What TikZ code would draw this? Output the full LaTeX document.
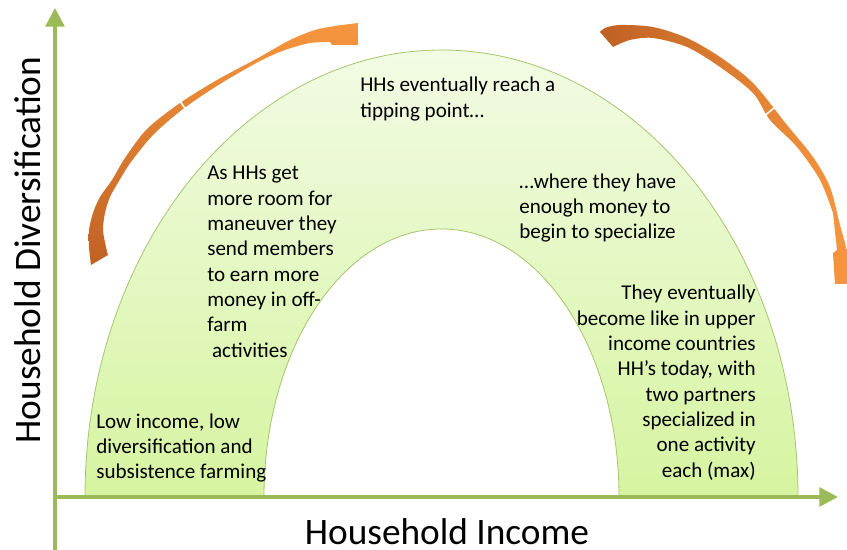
\documentclass[tikz,border=0pt]{standalone}
\usepackage{fontspec}
\setmainfont{Carlito}
\usetikzlibrary{positioning, calc, arrows.meta}

\definecolor{axisgreen}{HTML}{9BBB59}
\definecolor{archedge}{HTML}{A5C66E}
\definecolor{archtop}{HTML}{F2FBE4}
\definecolor{archbottom}{HTML}{D6F4A0}
\definecolor{arrowdark}{HTML}{BF6124}
\definecolor{arrowlight}{HTML}{F7963E}

\begin{document}
\begin{tikzpicture}[x=0.75pt, y=0.75pt,
    label text/.style={font=\fontsize{15.8}{19}\selectfont, inner sep=0pt},
    axis text/.style={font=\fontsize{28}{32}\selectfont, inner sep=0pt},
    axis line/.style={axisgreen, line width=3pt, -{Triangle[length=14pt, width=14pt]}}]

    \useasboundingbox (0,0) rectangle (847,550);
    \clip (0,0) rectangle (847,550);

    % The green block arc
    \shadedraw[draw=archedge, line width=0.6pt, top color=archtop, bottom color=archbottom]
        (85,53) arc[start angle=180, end angle=0, x radius=356.5, y radius=447] -- (619,53)
        arc[start angle=0, end angle=180, x radius=177.5, y radius=268] -- cycle;

    % Axes
    \coordinate (ybottom) at (55,0);
    \coordinate (ytip) at (55,542);
    \coordinate (origin) at (53.5,53);
    \coordinate (xtip) at (838,53);
    \draw[axis line] (ybottom) -- (ytip);
    \draw[axis line] (origin) -- (xtip);

    % Left orange arrow (up and over)
    \shade[bottom color=arrowdark, top color=arrowlight]
        plot[smooth] coordinates {(91,285) (89,303) (89,320) (93,337) (100,353) (112,370)
            (125,392) (147,421) (180,447) (217,470) (258,492) (290,510) (315,520) (335,524) (350,526)}
        -- (358,527) -- (358,505) -- (332,505) -- (330,508)
        -- plot[smooth] coordinates {(331,508) (310,507) (285,500) (260,489) (220,466) (183,441)
            (153,415) (131,388) (119,369) (110,353) (105,337) (103,320) (106,303) (108,295)}
        -- cycle;
    \draw[white, line width=1.2pt] (177.4,452.6) -- (186.6,439.4);

    % Right orange arrow (over and down)
    \shade[left color=arrowdark, right color=arrowlight]
        plot[smooth] coordinates {(600,518) (605,522) (620,525) (653,523) (687,512) (720,493)
            (753,467) (787,425) (813,393) (830,363) (840,325) (847,300)}
        -- (847,266) -- (835,266) -- (833,297) -- (837,300)
        -- plot[smooth] coordinates {(833,337) (820,370) (797,403) (770,430) (753,457)
            (720,483) (687,503) (653,512) (630,510) (613,503)}
        -- cycle;
    \draw[white, line width=1.2pt] (762,432) -- (774,442);

    % Texts inside the arc (placed at the baseline of their last line)
    \node[label text, anchor=base west, align=left] (lowincome) at (96,71.3)
        {Low income, low\\diversification and\\subsistence farming};
    \node[label text, anchor=base west, align=left] (offfarm) at (207,192.7)
        {As HHs get\\more room for\\maneuver they\\send members\\to earn more\\money in off-\\farm\\~activities};
    \node[label text, anchor=base west, align=left] (tipping) at (360,432.7)
        {HHs eventually reach a\\tipping point…};
    \node[label text, anchor=base west, align=left] (specialize) at (519,311.3)
        {…where they have\\enough money to\\begin to specialize};
    \node[label text, anchor=base east, align=right] (upperincome) at (756,72.7)
        {They eventually\\become like in upper\\income countries\\HH’s today, with\\two partners\\specialized in\\one activity\\each (max)};

    % Axis labels
    \node[axis text, rotate=90] (ylabel) at (28,300) {Household Diversification};
    \node[axis text] (xlabel) at (447,18) {Household Income};

\end{tikzpicture}
\end{document}
